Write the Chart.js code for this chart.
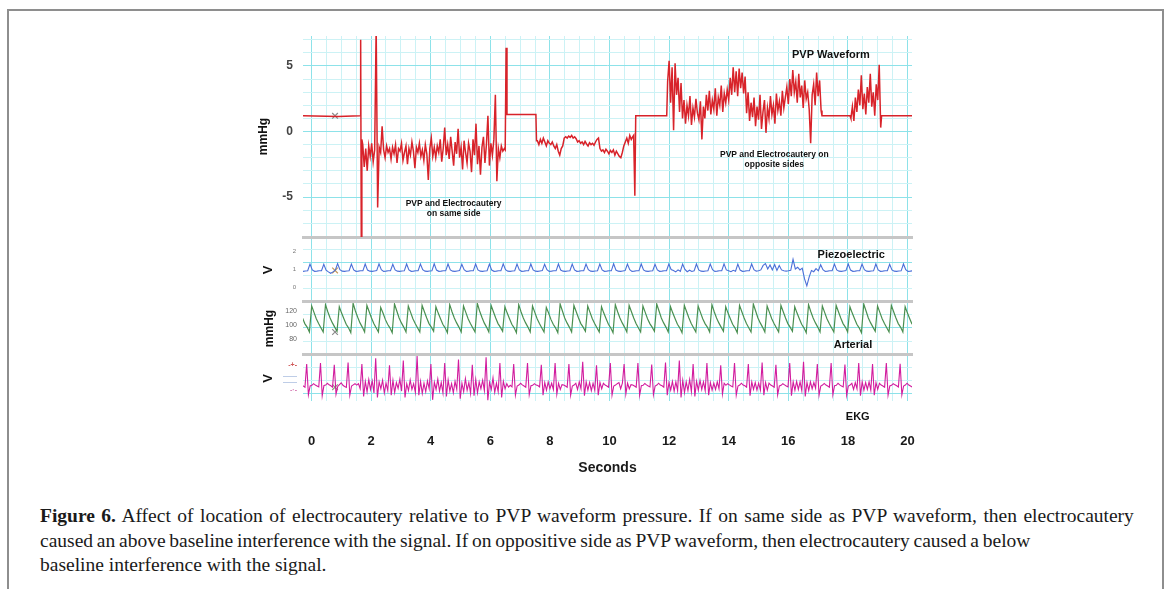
<!DOCTYPE html>
<html>
<head>
<meta charset="utf-8">
<title>Figure 6</title>
<script src="https://cdn.jsdelivr.net/npm/chart.js@4.4.1/dist/chart.umd.min.js"></script>
<style>
  html, body { margin: 0; padding: 0; background: #fff; }
  body { position: relative; width: 1170px; height: 589px; overflow: hidden; }
  .frame { position: absolute; left: 7px; top: 9px; width: 1153px; height: 620px; border: 2px solid #8e8e8e; border-bottom: none; }
  canvas { position: absolute; left: 250px; }
  .caption { position: absolute; left: 40px; top: 504px; font-family: 'Liberation Serif', 'Times New Roman', serif; font-size: 19.5px; line-height: 24.5px; color: #1a1a1a; white-space: nowrap; }
  .l1 { word-spacing: 1.6px; }
  .l2 { word-spacing: -1.1px; }
</style>
</head>
<body>
<div class="frame"></div>
<canvas id="pvp" width="672" height="203" style="top:36px"></canvas>
<canvas id="piezo" width="672" height="64" style="top:239px"></canvas>
<canvas id="arterial" width="672" height="53" style="top:303px"></canvas>
<canvas id="ekg" width="672" height="130" style="top:356px"></canvas>
<div class="caption"><span class="l1"><b>Figure 6.</b> Affect of location of electrocautery relative to PVP waveform pressure. If on same side as PVP waveform, then electrocautery</span><br><span class="l2">caused an above baseline interference with the signal. If on oppositive side as PVP waveform, then electrocautery caused a below</span><br>baseline interference with the signal.</div>
<script>
// ---- values ----
const secondsTicks = [0, 2, 4, 6, 8, 10, 12, 14, 16, 18, 20];
const pvpTicks = [-5, 0, 5];
const piezoTicks = [0, 1, 2];
const arterialTicks = [80, 100, 120];
const ekgTicks = [0.91, 0.43, 0.17, -0.17];
const ekgTickMarks = ['-+-', '\u2014\u2014', '\u2014\u2014', '-\u00b7-'];

// cursor cross drawn on every trace
const cursorTime = 0.79;
const cursorValues = { pvp: 1.2, piezo: 0.92, arterial: 90, ekg: -0.05 };

// PVP (mmHg): flat stretches and single jumps, [seconds, mmHg]
const pvpSteps = [
  [-0.3, 1.2], [0.9, 1.15], [1.63, 1.2], [1.65, 7.0], [1.67, -8.1], [1.69, -0.6],
  [6.50, -1.4], [6.53, 6.4], [6.56, 1.3], [7.53, 1.3], [7.55, -0.7],
  [10.81, -0.3], [10.85, -4.9], [10.88, 1.2], [11.92, 1.2],
  [17.13, 1.2], [18.07, 1.2],
  [19.13, 1.2], [20.2, 1.2]
];
// PVP noisy stretches, read every 0.05 s
const pvpStep = 0.05;
const pvpSameStart = 1.72;   // electrocautery on same side
const pvpSame = [
  -1.0, -2.7, -1.3, -3.0, -1.1, -1.9, -0.9, -2.3, -1.4, 8.0,
  -5.8, -1.2, -1.6, 0.4, -1.4, -2.0, -1.1, -1.6, -1.3, -2.1,
  -1.2, -1.7, -1.0, -2.4, -1.3, -1.5, -0.9, -2.2, -1.6, -1.1,
  -2.5, -1.3, -1.8, -0.8, -1.5, -2.8, -1.2, -1.6, -0.9, -1.9,
  -1.4, -2.2, -1.0, -1.7, -3.7, -1.3, -0.5, -1.9, -1.2, -2.0,
  -1.1, -1.6, -0.6, -2.3, -1.3, 0.3, -1.8, -1.0, -2.1, -0.4,
  -1.5, -2.6, -0.8, -1.7, 0.2, -2.0, -1.2, -2.9, -0.7, -1.6,
  -2.4, -0.9, -1.5, -3.1, -0.6, -1.8, 0.6, -2.5, -1.1, -3.3,
  -1.2, -0.4, -2.4, -1.0, 1.2, -2.6, -0.9, -1.8, -0.6, 2.8,
  -3.8, -1.3, -2.0, -1.1, -1.5, -1.3
];
const pvpDriftStart = 7.58;
const pvpDrift = [
  -0.7, -1.0, -0.6, -0.9, -0.5, -0.8, -1.1, -0.7, -0.9, -1.0,
  -0.8, -1.1, -1.3, -1.0, -1.5, -1.8, -1.3, -1.1, -0.5, -0.4,
  -0.5, -0.35, -0.45, -0.3, -0.5, -0.4, -0.55, -0.8, -0.7, -0.9,
  -0.8, -1.0, -0.75, -0.95, -1.1, -0.85, -1.0, -0.9, -1.05, -0.8,
  -0.6, -0.5, -1.3, -1.5, -1.4, -1.6, -1.35, -1.5, -1.7, -1.45,
  -1.6, -1.4, -1.8, -1.5, -1.7, -1.9, -2.0, -1.6, -1.1, -0.8,
  -0.5, -0.9, -0.3, -0.6, -0.4
];
const pvpOppStart = 11.95;   // electrocautery on opposite side
const pvpOpp = [
  3.8, 5.4, 2.2, 4.9, 0.1, 5.2, 2.8, 4.1, 1.5, 3.7,
  1.0, 2.4, 0.6, 2.0, 1.2, 2.7, 0.5, 1.8, 1.1, 2.5,
  1.4, 0.9, 2.3, -0.6, 1.9, 1.0, 2.8, 1.6, 3.1, 1.3,
  2.4, 1.7, 3.3, 1.2, 2.6, 2.0, 3.5, 1.5, 2.9, 2.2,
  3.2, 2.4, 4.1, 2.8, 4.9, 3.0, 4.6, 2.7, 4.8, 3.3,
  4.5, 2.9, 4.2, 1.4, 3.0, 0.8, 2.2, 1.1, 2.6, 0.4,
  1.9, 0.9, 2.8, 0.2, 1.5, 2.4, -0.1, 1.8, 1.0, 2.7,
  1.3, 2.0, 0.6, 2.9, 1.6, 2.3, 1.2, 3.1, 1.8, 2.6,
  3.4, 2.1, 4.0, 2.7, 4.7, 3.0, 3.8, 2.2, 4.4, 2.6,
  3.5, 1.8, 3.9, 2.5, 3.0, 1.7, -0.9, 2.8, 3.6, 2.0,
  4.5, 2.7, 3.9, 1.6
];
const pvpOpp2Start = 18.10;
const pvpOpp2 = [
  1.0, 1.9, 0.8, 2.6, 1.5, 3.2, 2.0, 4.3, 1.7, 2.9,
  1.3, 3.4, 2.2, 4.4, 1.9, 3.0, 1.2, 3.6, 2.4, 5.1, 0.3
];

// Piezoelectric (V), six readings per beat
const piezoStart = -0.359;
const piezo = [
  0.88, 0.87, 0.89, 0.9,
  1.27, 0.95, 0.87, 0.88, 0.9, 0.9,
  1.26, 0.94, 0.84, 0.76, 0.84, 0.93,
  1.3, 0.96, 0.88, 0.87, 0.89, 0.9,
  1.27, 0.95, 0.87, 0.88, 0.9, 0.9,
  1.28, 0.94, 0.88, 0.87, 0.89, 0.91,
  1.29, 0.96, 0.87, 0.88, 0.9, 0.9,
  1.26, 0.95, 0.88, 0.87, 0.89, 0.9,
  1.28, 0.95, 0.87, 0.88, 0.9, 0.91,
  1.27, 0.96, 0.88, 0.87, 0.89, 0.9,
  1.29, 0.94, 0.87, 0.88, 0.9, 0.9,
  1.28, 0.95, 0.88, 0.87, 0.89, 0.91,
  1.26, 0.96, 0.87, 0.88, 0.9, 0.9,
  1.28, 0.95, 0.88, 0.87, 0.89, 0.9,
  1.27, 0.94, 0.87, 0.88, 0.9, 0.91,
  1.29, 0.96, 0.88, 0.87, 0.89, 0.9,
  1.27, 0.95, 0.87, 0.88, 0.9, 0.9,
  1.28, 0.95, 0.88, 0.87, 0.89, 0.91,
  1.26, 0.96, 0.87, 0.88, 0.9, 0.9,
  1.28, 0.94, 0.88, 0.87, 0.89, 0.9,
  1.27, 0.95, 0.87, 0.88, 0.9, 0.91,
  1.28, 0.96, 0.88, 0.87, 0.89, 0.9,
  1.27, 0.95, 0.87, 0.88, 0.9, 0.9,
  1.29, 0.94, 0.88, 0.87, 0.89, 0.91,
  1.27, 0.96, 0.87, 0.88, 0.9, 0.9,
  1.28, 0.95, 0.88, 0.87, 0.89, 0.9,
  1.26, 0.95, 0.87, 0.88, 0.9, 0.91,
  1.28, 0.97, 0.92, 0.84, 0.95, 0.87,
  1.27, 0.98, 0.85, 0.93, 0.86, 0.9,
  1.28, 0.95, 0.88, 0.87, 0.89, 0.9,
  1.27, 0.96, 0.87, 0.88, 0.9, 0.91,
  1.29, 0.95, 0.9, 0.85, 0.93, 0.88,
  1.27, 0.94, 0.87, 0.88, 0.9, 0.9,
  1.28, 0.96, 0.88, 0.9, 0.95, 1.2,
  1.3, 1.0, 1.22, 0.95, 1.25, 0.92,
  1.2, 0.95, 0.9, 0.88, 0.9, 0.93,
  1.54, 1.0, 1.1, 0.95, 1.05, 0.45,
  0.06, 0.55, 0.92, 0.85, 1.02, 0.9,
  1.24, 0.96, 0.87, 0.88, 0.9, 0.9,
  1.27, 0.95, 0.88, 0.87, 0.89, 0.91,
  1.28, 0.94, 0.87, 0.88, 0.9, 0.9,
  1.27, 0.96, 0.88, 0.87, 0.89, 0.9,
  1.28, 0.95, 0.87, 0.88, 0.9, 0.91,
  1.26, 0.95, 0.88, 0.87, 0.89, 0.9,
  1.28, 0.96, 0.87, 0.88, 0.9, 0.9
];

// Arterial pressure (mmHg), six readings per beat
const arterialStart = -0.302;
const arterial = [
  110, 102, 97, 90,
  127, 118, 109, 102, 96, 90,
  129, 119, 110, 103, 97, 91,
  126, 117, 109, 101, 96, 89,
  131, 120, 111, 103, 97, 90,
  128, 119, 110, 102, 96, 90,
  125, 117, 108, 101, 96, 89,
  130, 120, 110, 103, 97, 90,
  127, 118, 109, 102, 96, 90,
  128, 119, 110, 102, 97, 91,
  126, 117, 109, 101, 96, 89,
  129, 119, 110, 103, 97, 90,
  127, 118, 109, 102, 96, 90,
  131, 120, 111, 103, 97, 90,
  128, 119, 110, 102, 97, 91,
  126, 117, 109, 101, 96, 89,
  129, 119, 110, 103, 97, 90,
  127, 118, 109, 102, 96, 90,
  125, 117, 108, 101, 96, 89,
  130, 120, 110, 103, 97, 90,
  128, 119, 110, 102, 97, 91,
  127, 118, 109, 102, 96, 90,
  126, 117, 109, 101, 96, 89,
  129, 119, 110, 103, 97, 90,
  128, 119, 110, 102, 96, 90,
  127, 118, 109, 102, 97, 91,
  130, 120, 110, 103, 97, 90,
  126, 117, 109, 101, 96, 89,
  128, 119, 110, 102, 96, 90,
  127, 118, 109, 102, 97, 90,
  129, 119, 110, 103, 97, 91,
  126, 117, 109, 101, 96, 89,
  128, 119, 110, 102, 96, 90,
  130, 120, 110, 103, 97, 90,
  127, 118, 109, 102, 96, 90,
  128, 119, 110, 102, 97, 91,
  126, 117, 109, 101, 96, 89,
  129, 119, 110, 103, 97, 90,
  127, 118, 109, 102, 96, 90,
  128, 119, 110, 102, 97, 90,
  126, 117, 109, 101, 96, 89,
  130, 120, 110, 103, 97, 91,
  127, 118, 109, 102, 96, 90,
  128, 119, 110, 102, 97, 90,
  126, 117, 109, 101, 96, 89
];

// EKG (arbitrary V), eight readings per beat, R wave first
const ekgStart = -0.335;
const ekg = [
  0.02, 0.0, -0.05,
  0.95, -0.38, 0, 0.03, 0.1, 0.04, 0, -0.04,
  1.0, -0.42, 0.02, 0.04, 0.12, 0.05, 0.01, -0.05,
  0.92, -0.36, -0.02, 0.06, 0.14, 0.03, -0.02, -0.06,
  1.02, -0.4, 0, 0.05, 0.1, 0.04, 0.1, -0.12,
  0.95, -0.45, 0.2, -0.25, 0.28, -0.15, 0.22, -0.3,
  1.2, -0.5, 0.18, -0.12, 0.25, -0.3, 0.12, -0.2,
  0.9, -0.4, 0.25, -0.28, 0.15, -0.1, 0.3, -0.22,
  1.1, -0.5, 0.1, -0.2, 0.26, -0.15, 0.1, -0.28,
  1.3, -0.4, 0.2, -0.32, 0.12, -0.25, 0.22, -0.12,
  0.95, -0.6, 0.16, -0.15, 0.3, -0.22, 0.15, -0.3,
  1.0, -0.45, 0.26, -0.22, 0.1, -0.3, 0.2, -0.15,
  1.15, -0.55, 0.12, -0.25, 0.32, -0.18, 0.15, -0.32,
  0.92, -0.42, 0.28, -0.3, 0.18, -0.12, 0.25, -0.2,
  1.25, -0.62, 0.15, -0.15, 0.35, -0.28, 0.12, -0.25,
  1.0, -0.5, 0.2, -0.12, 0.1, -0.05, 0.03, -0.04,
  0.95, -0.4, 0, 0.04, 0.12, 0.05, 0, -0.05,
  1.0, -0.38, 0.01, 0.03, 0.1, 0.04, 0.02, -0.04,
  0.92, -0.4, 0.15, -0.18, 0.18, -0.12, 0.12, -0.15,
  1.0, -0.35, 0.12, -0.15, 0.06, 0.04, 0, -0.05,
  0.95, -0.4, 0, 0.04, 0.12, -0.15, 0.18, -0.12,
  1.05, -0.42, 0.18, -0.18, 0.15, -0.2, 0.12, -0.18,
  0.9, -0.4, 0.15, -0.12, 0.12, 0.04, 0, -0.05,
  1.0, -0.4, 0, 0.04, 0.1, 0.15, -0.12, 0.12,
  0.95, -0.35, 0.12, -0.12, 0.06, 0.04, 0, -0.05,
  1.0, -0.4, 0.01, 0.03, 0.11, 0.05, 0, -0.04,
  0.93, -0.38, 0, 0.04, 0.12, 0.04, 0.01, -0.05,
  1.02, -0.4, 0.15, -0.18, 0.2, -0.22, 0.18, -0.2,
  1.1, -0.5, 0.25, -0.28, 0.18, -0.2, 0.28, -0.25,
  0.95, -0.45, 0.2, -0.18, 0.25, -0.15, 0.18, -0.2,
  1.0, -0.4, 0.15, -0.18, 0.12, -0.15, 0.18, -0.12,
  0.9, -0.35, 0.12, 0.03, 0.1, 0.05, 0, -0.04,
  1.0, -0.4, 0, 0.04, 0.12, 0.04, 0.01, -0.05,
  0.95, -0.42, 0.18, -0.15, 0.15, -0.18, 0.12, -0.18,
  1.02, -0.4, 0.15, -0.18, 0.12, 0.04, 0, -0.05,
  0.92, -0.38, 0, 0.03, 0.1, 0.05, 0, -0.04,
  1.0, -0.42, 0.18, -0.18, 0.2, -0.15, 0.18, -0.2,
  1.05, -0.45, 0.15, -0.2, 0.18, -0.12, 0.15, -0.1,
  0.95, -0.4, 0, 0.04, 0.11, 0.04, 0, -0.05,
  1.0, -0.38, 0.01, 0.03, 0.12, 0.05, 0, -0.04,
  0.93, -0.4, 0, 0.04, 0.12, -0.15, 0.15, -0.12,
  1.0, -0.42, 0.18, -0.18, 0.15, -0.15, 0.18, -0.18,
  0.95, -0.4, 0.15, -0.15, 0.12, 0.04, 0, -0.05,
  1.0, -0.4, 0, 0.03, 0.1, 0.05, 0.01, -0.04,
  0.96, -0.38, 0, 0.04, 0.12, 0.04, 0, -0.05
];

// ---- drawing ----
const BEAT = 0.4631;              // seconds per heart beat
const FONT = "'Liberation Sans', Arial, sans-serif";
const GRID_MAJOR = '#8de2e9';
const GRID_MINOR = '#ccf2f5';
const X_MIN = -0.285, X_MAX = 20.15;

// page rows of each panel and of the paper grid (0 mmHg row, px per grid square)
const PANEL = { pvp: [36, 237], piezo: [239, 301], arterial: [303, 354], ekg: [356, 401] };
const GRID_ZERO = 131.5, GRID_SQ = 13.1;

function series(start, step, values) {
  return values.map((v, i) => ({ x: start + i * step, y: v }));
}

const pvpPoints = pvpSteps.map(p => ({ x: p[0], y: p[1] }))
  .concat(series(pvpSameStart, pvpStep, pvpSame))
  .concat(series(pvpDriftStart, pvpStep, pvpDrift))
  .concat(series(pvpOppStart, pvpStep, pvpOpp))
  .concat(series(pvpOpp2Start, pvpStep, pvpOpp2))
  .sort((a, b) => a.x - b.x);

const notePlugin = {
  id: 'notes',
  afterDraw(chart, args, opts) {
    const { ctx, scales } = chart;
    (opts.items || []).forEach(n => {
      ctx.save();
      ctx.font = 'bold ' + n.size + 'px ' + FONT;
      ctx.fillStyle = '#111';
      ctx.textAlign = 'center';
      ctx.textBaseline = 'middle';
      ctx.fillText(n.text, scales.x.getPixelForValue(n.t), scales.y.getPixelForValue(n.v));
      ctx.restore();
    });
  }
};

function trace(data, color, width) {
  return { data: data, xAxisID: 'x', yAxisID: 'y', borderColor: color, borderWidth: width, pointRadius: 0, fill: false };
}

function cursor(value, color) {
  return { data: [{ x: cursorTime, y: value }], xAxisID: 'x', yAxisID: 'y', showLine: false, pointStyle: 'crossRot',
    pointRadius: 4, pointBorderColor: color, pointBorderWidth: 1.2 };
}

function panel(id, o) {
  const top = PANEL[id][0], bottom = PANEL[id][1];
  const last = id === 'ekg';
  return new Chart(document.getElementById(id), {
    type: 'line',
    data: { datasets: o.datasets },
    options: {
      responsive: false,
      animation: false,
      events: [],
      layout: { autoPadding: false, padding: { top: 0, left: 0, right: 10, bottom: last ? 5 : 2 } },
      plugins: { legend: { display: false }, tooltip: { enabled: false }, notes: { items: o.notes || [] } },
      scales: {
        x: {
          type: 'linear', min: X_MIN, max: X_MAX,
          afterFit: s => { s.height = last ? 80 : 0; s.paddingLeft = 0; s.paddingRight = 0; },
          ticks: {
            display: last, stepSize: 0.5, includeBounds: false, autoSkip: false, maxRotation: 0,
            padding: 33, color: '#1a1a1a', font: { family: FONT, size: 13, weight: 'bold' },
            callback: v => secondsTicks.includes(v) ? String(v) : ''
          },
          grid: { drawTicks: false, color: c => Math.round(c.tick.value * 2) % 4 === 0 ? GRID_MAJOR : GRID_MINOR },
          border: last ? { display: false } : { color: '#c6c6c6', width: 3 },
          title: { display: last, text: 'Seconds', color: '#1a1a1a',
            font: { family: FONT, size: 14, weight: 'bold' }, padding: { top: 0, bottom: 4 } }
        },
        y: {
          position: 'left', min: o.min, max: o.max,
          afterBuildTicks: a => { a.ticks = o.ticks.map(v => ({ value: v })); },
          afterFit: s => { s.width = 53; s.paddingTop = 0; s.paddingBottom = 0; },
          grid: { display: false, drawTicks: false },
          border: { display: false },
          ticks: Object.assign({ padding: 8, color: '#4a4a4a', font: { family: FONT, size: 7 } }, o.tickStyle),
          title: { display: true, text: o.title, color: '#111',
            font: { family: FONT, size: o.titleSize, weight: 'bold' }, padding: { top: o.titlePad, bottom: 0 } }
        },
        g: {
          position: 'left',
          min: (GRID_ZERO - bottom) / GRID_SQ, max: (GRID_ZERO - top) / GRID_SQ,
          afterFit: s => { s.width = 0; s.paddingTop = 0; s.paddingBottom = 0; },
          ticks: { display: false, stepSize: 1, includeBounds: false },
          grid: { drawTicks: false, color: c => Math.round(c.tick.value) % 5 === 0 ? GRID_MAJOR : GRID_MINOR },
          border: { display: false }
        }
      }
    },
    plugins: [notePlugin]
  });
}

panel('pvp', {
  min: -8.05, max: 7.29, ticks: pvpTicks, title: 'mmHg', titleSize: 12, titlePad: 6,
  tickStyle: { padding: 10, color: '#444', font: { family: FONT, size: 12, weight: 'bold' } },
  datasets: [trace(pvpPoints, '#d8232a', 1.5), cursor(cursorValues.pvp, '#8a8a8a')],
  notes: [
    { text: 'PVP Waveform', t: 17.43, v: 5.84, size: 11 },
    { text: 'PVP and Electrocautery', t: 4.77, v: -5.53, size: 8.5 },
    { text: 'on same side', t: 4.77, v: -6.3, size: 8.5 },
    { text: 'PVP and Electrocautery on', t: 15.53, v: -1.74, size: 8.5 },
    { text: 'opposite sides', t: 15.53, v: -2.56, size: 8.5 }
  ]
});

panel('piezo', {
  min: -0.778, max: 2.667, ticks: piezoTicks, title: 'V', titleSize: 13, titlePad: 11,
  tickStyle: { padding: 7, color: '#777', font: { family: FONT, size: 6 } },
  datasets: [trace(series(piezoStart, BEAT / 6, piezo), '#4a6fd8', 1.1), cursor(cursorValues.piezo, '#c49a5a')],
  notes: [{ text: 'Piezoelectric', t: 18.11, v: 1.78, size: 11 }]
});

panel('arterial', {
  min: 58.6, max: 131.4, ticks: arterialTicks, title: 'mmHg', titleSize: 12, titlePad: 12,
  tickStyle: { padding: 6, color: '#666', font: { family: FONT, size: 7 } },
  datasets: [trace(series(arterialStart, BEAT / 6, arterial), '#4a8f50', 1.2), cursor(cursorValues.arterial, '#8a8a8a')],
  notes: [{ text: 'Arterial', t: 18.17, v: 71.4, size: 11 }]
});

panel('ekg', {
  min: -0.65, max: 1.3, ticks: ekgTicks, title: 'V', titleSize: 13, titlePad: 11,
  tickStyle: {
    padding: 6, font: { family: FONT, size: 7, weight: 'bold' },
    color: c => ['#d05858', '#a9bde0', '#a9bde0', '#d77fb5'][c.index],
    callback: (v, i) => ekgTickMarks[i]
  },
  datasets: [trace(series(ekgStart, BEAT / 8, ekg), '#d21c9e', 1.1), cursor(cursorValues.ekg, '#8e9c80')],
  notes: [{ text: 'EKG', t: 18.33, v: -1.35, size: 11 }]
});
</script>
</body>
</html>
